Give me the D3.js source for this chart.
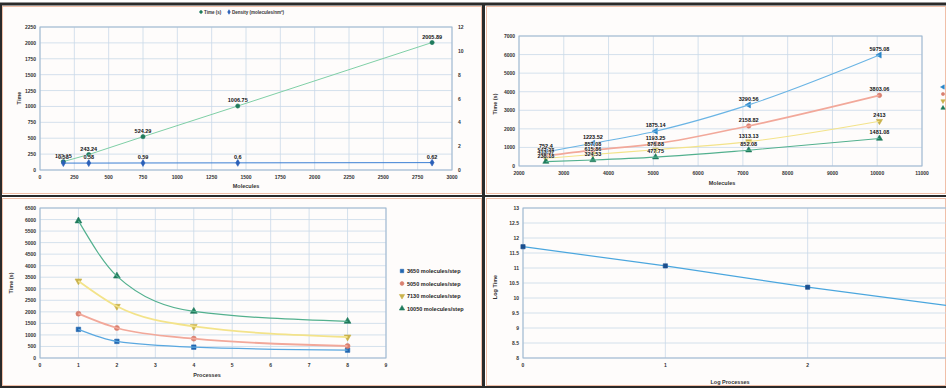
<!DOCTYPE html>
<html>
<head>
<meta charset="utf-8">
<script src="https://cdn.jsdelivr.net/npm/d3@7"></script>
<style>
  body { margin: 0; background: #fff; }
  svg { display: block; font-family: "Liberation Sans", Arial, sans-serif; }
</style>
</head>
<body>
<div id="chart"></div>
<script>
// ---- top left: time and density vs molecules ----
const tlMolecules = [170, 355, 750, 1440, 2855];
const tlTime = [132.15, 243.24, 524.29, 1006.75, 2005.89];
const tlDensity = [0.58, 0.58, 0.59, 0.6, 0.62];
const tlDensityLabels = ["0.58", "0.58", "0.59", "0.6", "0.62"];
const tlXTicks = d3.range(0, 3001, 250);
const tlYTicks = d3.range(0, 2251, 250);
const tlY2Ticks = d3.range(0, 13, 2);

// ---- top right: time vs molecules per process count ----
const trMolecules = [2600, 3650, 5050, 7130, 10050];
const trSeries = [
    { name: "1 process", values: [752.4, 1223.52, 1875.14, 3290.56, 5975.08] },
    { name: "2 processes", values: [547.28, 857.08, 1193.25, 2158.82, 3803.06] },
    { name: "4 processes", values: [413.37, 615.86, 876.88, 1313.13, 2413] },
    { name: "8 processes", values: [238.18, 324.53, 477.75, 852.08, 1481.08] }
];
const trXTicks = d3.range(2000, 11001, 1000);
const trYTicks = d3.range(0, 7001, 1000);

// ---- bottom left: time vs processes per problem size ----
const blProcesses = [1, 2, 4, 8];
const blSeries = [
    { name: "3650 molecules/step", values: [1240, 720, 470, 340] },
    { name: "5050 molecules/step", values: [1920, 1300, 840, 520] },
    { name: "7130 molecules/step", values: [3340, 2240, 1370, 910] },
    { name: "10050 molecules/step", values: [5940, 3550, 2020, 1590] }
];
const blXTicks = d3.range(0, 10);
const blYTicks = d3.range(0, 6501, 500);

// ---- bottom right: log time vs log processes ----
const brLogProc = [0, 1, 2, 3];
const brLogTime = [11.71, 11.07, 10.36, 9.74];
const brXTicks = [0, 1, 2, 3];
const brYTicks = d3.range(8, 13.01, 0.5);

const seriesStyle = [
    { line: "#5aa8e0", fill: "#2266b0", symbol: d3.symbolSquare, rot: 0 },
    { line: "#f2a89a", fill: "#d98070", symbol: d3.symbolCircle, rot: 0 },
    { line: "#f3e38a", fill: "#c9b24c", symbol: d3.symbolTriangle, rot: 180 },
    { line: "#52b08e", fill: "#1f7a5c", symbol: d3.symbolTriangle, rot: 0 }
];
const gridColor = "#c9d9e8";
const axisColor = "#9fb7d0";

const svg = d3.select("#chart").append("svg")
    .attr("width", 946)
    .attr("height", 388);

// panel backgrounds and frame lines
const panels = [[2, 6, 480, 188], [486, 6, 460, 188], [2, 198, 480, 188], [486, 198, 460, 188]];
svg.selectAll("rect.panel").data(panels).enter().append("rect")
    .attr("x", d => d[0] + 0.5).attr("y", d => d[1] + 0.5)
    .attr("width", d => d[2] - 1).attr("height", d => d[3] - 1)
    .attr("fill", "#fefcfb").attr("stroke", "#f0bfa8").attr("stroke-width", 1);
const frame = svg.append("g").attr("stroke", "#2a2a2a");
frame.append("line").attr("x1", 0).attr("x2", 946).attr("y1", 4).attr("y2", 4).attr("stroke-width", 3);
frame.append("line").attr("x1", 0).attr("x2", 946).attr("y1", 196).attr("y2", 196).attr("stroke-width", 2);
frame.append("line").attr("x1", 0).attr("x2", 946).attr("y1", 387).attr("y2", 387).attr("stroke-width", 2);
frame.append("line").attr("x1", 483.5).attr("x2", 483.5).attr("y1", 3).attr("y2", 388).attr("stroke-width", 3);
frame.append("line").attr("x1", 1).attr("x2", 1).attr("y1", 3).attr("y2", 388).attr("stroke-width", 2);

function drawFrame(x, y, xTicks, yTicks, fmtX, fmtY) {
    const [x0, x1] = x.range();
    const [y0, y1] = y.range();
    const g = svg.append("g");
    g.selectAll("line.v").data(xTicks).enter().append("line")
        .attr("x1", d => x(d)).attr("x2", d => x(d))
        .attr("y1", y0).attr("y2", y1)
        .attr("stroke", gridColor).attr("stroke-width", 0.8);
    g.selectAll("line.h").data(yTicks).enter().append("line")
        .attr("x1", x0).attr("x2", Math.min(x1, 946))
        .attr("y1", d => y(d)).attr("y2", d => y(d))
        .attr("stroke", gridColor).attr("stroke-width", 0.8);
    g.append("rect")
        .attr("x", x0).attr("y", y1).attr("width", x1 - x0).attr("height", y0 - y1)
        .attr("fill", "none").attr("stroke", axisColor).attr("stroke-width", 1);
    g.selectAll("text.xl").data(xTicks.filter(d => x(d) < 946)).enter().append("text")
        .attr("x", d => x(d)).attr("y", y0 + 9)
        .attr("text-anchor", "middle")
        .style("font-size", "5px").style("font-weight", "bold").attr("fill", "#333")
        .text(fmtX);
    g.selectAll("text.yl").data(yTicks).enter().append("text")
        .attr("x", x0 - 4).attr("y", d => y(d) + 2)
        .attr("text-anchor", "end")
        .style("font-size", "5px").style("font-weight", "bold").attr("fill", "#333")
        .text(fmtY);
    return g;
}

function axisTitle(text, x, y, rotate) {
    svg.append("text")
        .attr("transform", "translate(" + x + "," + y + ")" + (rotate ? " rotate(-90)" : ""))
        .attr("text-anchor", "middle")
        .style("font-size", "5.5px").style("font-weight", "bold").attr("fill", "#333")
        .text(text);
}

function marker(g, style, px, py, size) {
    g.append("path")
        .attr("d", d3.symbol().type(style.symbol).size(size)())
        .attr("transform", "translate(" + px + "," + py + ") rotate(" + style.rot + ")")
        .attr("fill", style.fill).attr("stroke", style.fill).attr("stroke-width", 0.6);
}

function dataLabel(text, px, py) {
    svg.append("text")
        .attr("x", px).attr("y", py)
        .attr("text-anchor", "middle")
        .style("font-size", "5.5px").style("font-weight", "bold").attr("fill", "#111")
        .attr("stroke", "#fff").attr("stroke-width", 0.6).attr("paint-order", "stroke")
        .text(text);
}

// ===== top left =====
{
    const x = d3.scaleLinear().domain([0, 3000]).range([40, 452]);
    const y = d3.scaleLinear().domain([0, 2250]).range([170, 27]);
    const y2 = d3.scaleLinear().domain([0, 12]).range([170, 27]);
    drawFrame(x, y, tlXTicks, tlYTicks, d => d, d => d);
    svg.selectAll("text.y2").data(tlY2Ticks).enter().append("text")
        .attr("x", 458).attr("y", d => y2(d) + 2)
        .style("font-size", "5px").style("font-weight", "bold").attr("fill", "#333")
        .text(d => d);
    axisTitle("Time", 21, 98, true);
    axisTitle("Molecules", 246, 188, false);

    const line = d3.line();
    const timePts = tlMolecules.map((m, i) => [x(m), y(tlTime[i])]);
    const densPts = tlMolecules.map((m, i) => [x(m), y2(tlDensity[i])]);
    svg.append("path").attr("d", line(timePts)).attr("fill", "none")
        .attr("stroke", "#7fcfa6").attr("stroke-width", 1);
    svg.append("path").attr("d", line(densPts)).attr("fill", "none")
        .attr("stroke", "#3b7fd4").attr("stroke-width", 1);
    const gm = svg.append("g");
    const timeStyle = { fill: "#1f7a5c", symbol: d3.symbolCircle, rot: 0 };
    const densStyle = { fill: "#2a5fb8", symbol: d3.symbolDiamond, rot: 0 };
    timePts.forEach((p, i) => {
        marker(gm, timeStyle, p[0], p[1], 14);
        dataLabel(tlTime[i].toFixed(2), p[0], p[1] - 4);
    });
    densPts.forEach((p, i) => {
        marker(gm, densStyle, p[0], p[1], 14);
        dataLabel(tlDensityLabels[i], p[0], p[1] - 4);
    });
    // legend
    const lg = svg.append("g");
    marker(lg, timeStyle, 201, 12, 6);
    lg.append("text").attr("x", 204).attr("y", 14).style("font-size", "4.5px").style("font-weight", "bold")
        .attr("fill", "#333").text("Time (s)");
    marker(lg, densStyle, 229, 12, 6);
    lg.append("text").attr("x", 232).attr("y", 14).style("font-size", "4.5px").style("font-weight", "bold")
        .attr("fill", "#333").text("Density (molecules/nm³)");
}

// ===== top right =====
{
    const x = d3.scaleLinear().domain([2000, 11000]).range([519, 922]);
    const y = d3.scaleLinear().domain([0, 7000]).range([166, 36]);
    drawFrame(x, y, trXTicks, trYTicks, d => d, d => d);
    axisTitle("Time (s)", 497, 104, true);
    axisTitle("Molecules", 722, 185, false);

    const line = d3.line().curve(d3.curveMonotoneX);
    const styles = [
        { line: "#6ab4e4", fill: "#2b86c8", symbol: d3.symbolTriangle, rot: -90 },
        seriesStyle[1], seriesStyle[2], seriesStyle[3]
    ];
    const gm = svg.append("g");
    trSeries.forEach((s, k) => {
        const pts = trMolecules.map((m, i) => [x(m), y(s.values[i])]);
        svg.append("path").attr("d", line(pts)).attr("fill", "none")
            .attr("stroke", styles[k].line).attr("stroke-width", k === 1 ? 1.6 : 1.1);
        pts.forEach(p => marker(gm, styles[k], p[0], p[1], 16));
    });
    trSeries.forEach(s => {
        trMolecules.forEach((m, i) => dataLabel(String(s.values[i]), x(m), y(s.values[i]) - 4));
    });
    // legend (cut off at the page edge)
    const lg = svg.append("g");
    trSeries.forEach((s, k) => {
        marker(lg, styles[k], 943, 87 + k * 7, 8);
        lg.append("text").attr("x", 946).attr("y", 89 + k * 7)
            .style("font-size", "5px").attr("fill", "#333").text(s.name);
    });
}

// ===== bottom left =====
{
    const x = d3.scaleLinear().domain([0, 9]).range([40, 386]);
    const y = d3.scaleLinear().domain([0, 6500]).range([358, 208]);
    drawFrame(x, y, blXTicks, blYTicks, d => d, d => d);
    axisTitle("Time (s)", 13, 283, true);
    axisTitle("Processes", 207, 377, false);

    const line = d3.line().curve(d3.curveMonotoneX);
    const gm = svg.append("g");
    blSeries.forEach((s, k) => {
        const pts = blProcesses.map((p, i) => [x(p), y(s.values[i])]);
        svg.append("path").attr("d", line(pts)).attr("fill", "none")
            .attr("stroke", seriesStyle[k].line).attr("stroke-width", k === 1 || k === 2 ? 1.8 : 1.2);
        pts.forEach(p => marker(gm, seriesStyle[k], p[0], p[1], 20));
    });
    const lg = svg.append("g");
    blSeries.forEach((s, k) => {
        marker(lg, seriesStyle[k], 402, 271 + k * 12.5, 12);
        lg.append("text").attr("x", 407).attr("y", 273 + k * 12.5)
            .style("font-size", "5.5px").style("font-weight", "bold").attr("fill", "#222").text(s.name);
    });
}

// ===== bottom right =====
{
    const x = d3.scaleLinear().domain([0, 3]).range([523, 950]);
    const y = d3.scaleLinear().domain([8, 13]).range([358, 208]);
    drawFrame(x, y, brXTicks, brYTicks, d => d, d => d);
    axisTitle("Log Time", 497, 287, true);
    axisTitle("Log Processes", 730, 384, false);

    const pts = brLogProc.map((p, i) => [x(p), y(brLogTime[i])]);
    svg.append("path").attr("d", d3.line()(pts)).attr("fill", "none")
        .attr("stroke", "#4aa6de").attr("stroke-width", 1.2);
    const gm = svg.append("g");
    const st = { fill: "#1b4f8f", symbol: d3.symbolSquare, rot: 0 };
    pts.forEach(p => marker(gm, st, p[0], p[1], 18));
}
</script>
</body>
</html>
